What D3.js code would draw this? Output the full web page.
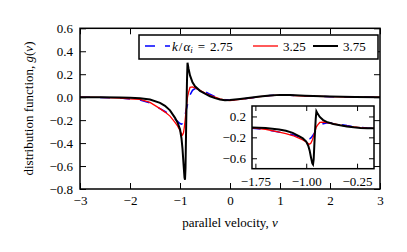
<!DOCTYPE html>
<html>
<head>
<meta charset="utf-8">
<script src="https://cdn.jsdelivr.net/npm/d3@7"></script>
<style>
  body { margin: 0; background: #fff; }
  svg text { font-family: "Liberation Serif", "DejaVu Serif", serif; }
</style>
</head>
<body>
<div id="viz"></div>
<script>
// data
const V = [-3, -2.6, -2.2, -2.0, -1.8, -1.6, -1.4, -1.3, -1.2, -1.1, -1.05, -1.0, -0.97, -0.95, -0.93,
  -0.91, -0.90, -0.89, -0.875, -0.86, -0.85, -0.83, -0.80, -0.75, -0.70, -0.6, -0.5, -0.4, -0.3,
  -0.2, -0.1, 0, 0.2, 0.4, 0.6, 0.8, 1.0, 1.2, 1.5, 2.0, 2.5, 3.0];
const G_275 = [0, -0.002, -0.008, -0.015, -0.025, -0.05, -0.1, -0.125, -0.15, -0.19, -0.21, -0.23, -0.235, -0.23, -0.21,
  -0.18, -0.16, -0.14, -0.11, -0.085, -0.065, -0.02, 0.02, 0.06, 0.075, 0.075, 0.05, 0.025, 0.005,
  -0.01, -0.02, -0.027, -0.02, -0.008, 0.005, 0.014, 0.02, 0.017, 0.01, 0.004, 0.001, 0];
const G_325 = [0, -0.002, -0.008, -0.015, -0.02, -0.045, -0.1, -0.13, -0.165, -0.22, -0.25, -0.29, -0.32, -0.33, -0.31,
  -0.25, -0.21, -0.17, -0.10, -0.04, 0.0, 0.04, 0.085, 0.09, 0.08, 0.06, 0.035, 0.015, 0.0,
  -0.015, -0.025, -0.03, -0.02, -0.008, 0.005, 0.013, 0.018, 0.016, 0.01, 0.004, 0.001, 0];
const G_375 = [0, 0, -0.002, -0.005, -0.01, -0.02, -0.05, -0.075, -0.115, -0.18, -0.22, -0.28, -0.36, -0.45, -0.58,
  -0.70, -0.72, -0.62, -0.2, 0.15, 0.30, 0.25, 0.19, 0.13, 0.095, 0.055, 0.03, 0.008, -0.008,
  -0.02, -0.027, -0.025, -0.015, -0.005, 0.005, 0.015, 0.02, 0.018, 0.012, 0.005, 0.002, 0];

const X_TICKS = [-3, -2, -1, 0, 1, 2, 3];
const Y_TICKS = [-0.8, -0.6, -0.4, -0.2, 0.0, 0.2, 0.4, 0.6];
const INSET_X_TICKS = [-1.75, -1.00, -0.25];
const INSET_Y_TICKS = [-0.6, -0.2, 0.2];
const LABELS = ["2.75", "3.25", "3.75"];

const FONT = "Liberation Serif, DejaVu Serif, serif";

const series = [
  {g: G_275, color: "#0000ff", width: 1.5, dash: "10,10"},
  {g: G_325, color: "#ff0000", width: 1.3, dash: null},
  {g: G_375, color: "#000000", width: 2, dash: null}
];

const width = 407, height = 252;
const svg = d3.select("#viz").append("svg").attr("width", width).attr("height", height)
  .attr("font-family", FONT);

// main axes
const x = d3.scaleLinear().domain([-3, 3]).range([80, 380]);
const y = d3.scaleLinear().domain([-0.8, 0.6]).range([189, 28.3]);

function drawAxes(g, xs, ys, xt, yt, xfmt, yfmt, tick, padX, padY, clipId) {
  const [x0, x1] = xs.range(), [y0, y1] = ys.range();
  g.append("clipPath").attr("id", clipId).append("rect")
    .attr("x", x0).attr("y", y1).attr("width", x1 - x0).attr("height", y0 - y1);
  g.append("rect").attr("x", x0).attr("y", y1).attr("width", x1 - x0).attr("height", y0 - y1)
    .attr("fill", "#fff");

  const line = d3.line().x((d, i) => xs(V[i])).y(d => ys(d));
  const lines = g.append("g").attr("clip-path", `url(#${clipId})`);
  series.forEach(s => {
    lines.append("path").attr("d", line(s.g)).attr("fill", "none")
      .attr("stroke", s.color).attr("stroke-width", s.width)
      .attr("stroke-dasharray", s.dash);
  });

  const style = a => {
    a.attr("font-family", FONT).attr("font-size", 13);
    a.select(".domain").remove();
    a.selectAll(".tick line").attr("stroke", "#000").attr("stroke-width", 1);
    a.selectAll(".tick text").attr("font-family", FONT).attr("font-size", 13).attr("fill", "#000");
  };
  g.append("g").attr("transform", `translate(0,${y0})`)
    .call(d3.axisBottom(xs).tickValues(xt).tickFormat(xfmt).tickSize(-tick).tickPadding(padX)).call(style);
  g.append("g").attr("transform", `translate(0,${y1})`)
    .call(d3.axisTop(xs).tickValues(xt).tickFormat("").tickSize(-tick)).call(style);
  g.append("g").attr("transform", `translate(${x0},0)`)
    .call(d3.axisLeft(ys).tickValues(yt).tickFormat(yfmt).tickSize(-tick).tickPadding(padY)).call(style);
  g.append("g").attr("transform", `translate(${x1},0)`)
    .call(d3.axisRight(ys).tickValues(yt).tickFormat("").tickSize(-tick)).call(style);

  g.append("rect").attr("x", x0).attr("y", y1).attr("width", x1 - x0).attr("height", y0 - y1)
    .attr("fill", "none").attr("stroke", "#000").attr("stroke-width", 1.5);
}

const main = svg.append("g");
drawAxes(main, x, y, X_TICKS, Y_TICKS, d3.format("d"), d3.format(".1f"), 6, 7, 7, "clipMain");

// axis titles
svg.append("text").attr("x", 230).attr("y", 227).attr("text-anchor", "middle").attr("font-size", 13)
  .call(t => { t.append("tspan").text("parallel velocity, "); t.append("tspan").attr("font-style", "italic").text("v"); });
svg.append("text").attr("transform", "translate(33,108.5) rotate(-90)").attr("text-anchor", "middle").attr("font-size", 13)
  .call(t => {
    t.append("tspan").text("distribution function, ");
    t.append("tspan").attr("font-style", "italic").text("g");
    t.append("tspan").text("(");
    t.append("tspan").attr("font-style", "italic").text("v");
    t.append("tspan").text(")");
  });

// legend
const leg = svg.append("g");
leg.append("rect").attr("x", 139).attr("y", 35).attr("width", 239).attr("height", 24)
  .attr("fill", "#fff").attr("stroke", "#000").attr("stroke-width", 1.5);
const legX = [145, 253, 313], legTextX = [172, 283, 343];
series.forEach((s, i) => {
  leg.append("line").attr("x1", legX[i]).attr("x2", legX[i] + 25).attr("y1", 46).attr("y2", 46)
    .attr("stroke", s.color).attr("stroke-width", s.width).attr("stroke-dasharray", s.dash);
  const t = leg.append("text").attr("x", legTextX[i]).attr("y", 50.5).attr("font-size", 13);
  if (i === 0) {
    t.append("tspan").attr("font-style", "italic").text("k");
    t.append("tspan").attr("dx", 1).text("/");
    t.append("tspan").attr("dx", 1).attr("font-style", "italic").text("α");
    t.append("tspan").attr("font-style", "italic").attr("font-size", 9).attr("dy", 2).text("i");
    t.append("tspan").attr("dy", -2).attr("dx", 5).text("=");
    t.append("tspan").attr("dx", 5).text(LABELS[i]);
  } else {
    t.text(LABELS[i]);
  }
});

// inset
const xi = d3.scaleLinear().domain([-1.8, 0]).range([252, 374]);
const yi = d3.scaleLinear().domain([-0.8, 0.4]).range([168.7, 106]);
const inset = svg.append("g");
drawAxes(inset, xi, yi, INSET_X_TICKS, INSET_Y_TICKS, d3.format(".2f"), d3.format(".1f"), 5, 8, 6, "clipInset");
</script>
</body>
</html>
